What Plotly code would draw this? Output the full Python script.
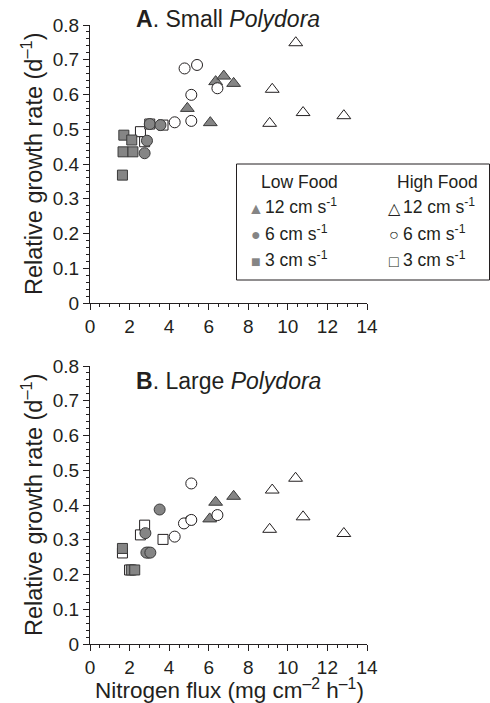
import plotly.graph_objects as go

# ---------------- data ----------------
# Panel A: Small Polydora
a_low12_x = [4.92, 6.08, 6.35, 6.76, 7.26]
a_low12_y = [0.560, 0.519, 0.637, 0.653, 0.632]
a_low6_x = [2.76, 2.88, 3.02, 3.56]
a_low6_y = [0.431, 0.467, 0.515, 0.512]
a_low3_x = [1.64, 1.67, 1.71, 2.11, 2.17]
a_low3_y = [0.368, 0.435, 0.483, 0.469, 0.435]
a_high12_x = [9.08, 9.21, 10.40, 10.77, 12.83]
a_high12_y = [0.517, 0.615, 0.749, 0.548, 0.539]
a_high6_x = [4.28, 4.78, 5.12, 5.12, 5.41, 6.44]
a_high6_y = [0.520, 0.675, 0.524, 0.599, 0.685, 0.618]
a_high3_x = [2.55, 2.76, 3.02, 3.69]
a_high3_y = [0.493, 0.464, 0.515, 0.512]

# Panel B: Large Polydora
b_low12_x = [4.92, 6.05, 6.35, 7.26]
b_low12_y = [0.352, 0.360, 0.408, 0.425]
b_low6_x = [2.80, 2.85, 3.05, 3.52]
b_low6_y = [0.319, 0.263, 0.263, 0.387]
b_low3_x = [1.64, 2.09, 2.26]
b_low3_y = [0.275, 0.213, 0.213]
b_high12_x = [9.08, 9.21, 10.39, 10.77, 12.83]
b_high12_y = [0.330, 0.443, 0.477, 0.366, 0.318]
b_high6_x = [2.95, 4.28, 4.75, 5.12, 5.12, 6.44]
b_high6_y = [0.263, 0.309, 0.347, 0.357, 0.462, 0.371]
b_high3_x = [1.64, 2.00, 2.55, 2.76, 3.69]
b_high3_y = [0.262, 0.213, 0.314, 0.342, 0.301]

x_ticks = [0, 2, 4, 6, 8, 10, 12, 14]
y_ticks = [0, 0.1, 0.2, 0.3, 0.4, 0.5, 0.6, 0.7, 0.8]
y_ticklabels = ["0", "0.1", "0.2", "0.3", "0.4", "0.5", "0.6", "0.7", "0.8"]

# ---------------- style ----------------
FONT = "Liberation Sans, Arial, Helvetica, sans-serif"
INK = "#231f20"
GREY = "#858585"
W, H = 490, 703
ML, MR, MT, MB = 90, 123, 25, 59
PW, PH = W - ML - MR, H - MT - MB


def px_x(p):
    return (p - ML) / PW


def px_y(p):
    return (H - MB - p) / PH


def marker(symbol, filled, size):
    return dict(
        symbol=symbol,
        size=size,
        color=GREY if filled else "white",
        line=dict(color="#3a3a3a" if filled else INK, width=1),
    )


series = [
    ("high3", "square", False, 10),
    ("low3", "square", True, 10),
    ("high12", "triangle-up", False, 12),
    ("low12", "triangle-up", True, 12),
    ("high6", "circle", False, 11),
    ("low6", "circle", True, 11),
]

panels = {
    "a": dict(
        low12=(a_low12_x, a_low12_y), low6=(a_low6_x, a_low6_y), low3=(a_low3_x, a_low3_y),
        high12=(a_high12_x, a_high12_y), high6=(a_high6_x, a_high6_y), high3=(a_high3_x, a_high3_y),
    ),
    "b": dict(
        low12=(b_low12_x, b_low12_y), low6=(b_low6_x, b_low6_y), low3=(b_low3_x, b_low3_y),
        high12=(b_high12_x, b_high12_y), high6=(b_high6_x, b_high6_y), high3=(b_high3_x, b_high3_y),
    ),
}

fig = go.Figure()
for pkey, axes in (("a", ("x", "y")), ("b", ("x2", "y2"))):
    for name, sym, filled, size in series:
        xs, ys = panels[pkey][name]
        fig.add_trace(go.Scatter(
            x=xs, y=ys, mode="markers", xaxis=axes[0], yaxis=axes[1],
            marker=marker(sym, filled, size), showlegend=False, cliponaxis=False,
            hoverinfo="x+y",
        ))

gap = 63
dom_h = (PH - gap) / 2 / PH

axis_common = dict(
    showgrid=False, zeroline=False, showline=True, linecolor=INK, linewidth=1,
    ticks="outside", ticklen=6, tickwidth=1, tickcolor=INK, automargin=False,
    tickfont=dict(family=FONT, size=19, color=INK),
)
xa = dict(axis_common, range=[0, 14], tickvals=x_ticks,
          minor=dict(dtick=0.5, ticks="outside", ticklen=3, tickcolor=INK, tick0=0))
ya = dict(axis_common, range=[0, 0.8], tickvals=y_ticks, ticktext=y_ticklabels,
          minor=dict(dtick=0.02, ticks="outside", ticklen=3, tickcolor=INK, tick0=0))

fig.update_layout(
    width=W, height=H,
    margin=dict(l=ML, r=MR, t=MT, b=MB, autoexpand=False),
    paper_bgcolor="white", plot_bgcolor="white",
    font=dict(family=FONT, color=INK),
    xaxis=dict(xa, anchor="y", domain=[0, 1]),
    yaxis=dict(ya, anchor="x", domain=[1 - dom_h, 1]),
    xaxis2=dict(xa, anchor="y2", domain=[0, 1]),
    yaxis2=dict(ya, anchor="x2", domain=[0, dom_h]),
)

ann = []
# panel titles
ann.append(dict(text="<b>A</b>. Small <i>Polydora</i>", x=px_x(228), y=px_y(19),
                font=dict(size=23)))
ann.append(dict(text="<b>B</b>. Large <i>Polydora</i>", x=px_x(228), y=px_y(381),
                font=dict(size=23)))
# axis titles
for yc in (164, 505):
    ann.append(dict(text="Relative growth rate (d<sup>–1</sup>)", x=px_x(32), y=px_y(yc),
                    textangle=-90, font=dict(size=23.5)))
ann.append(dict(text="Nitrogen flux (mg cm<sup>–2</sup> h<sup>–1</sup>)", x=px_x(229), y=px_y(689),
                font=dict(size=22.5)))

# legend (panel A)
ann.append(dict(text="Low Food", x=px_x(299), y=px_y(182), font=dict(size=17.5)))
ann.append(dict(text="High Food", x=px_x(437), y=px_y(182), font=dict(size=17.5)))
rows = [(208, "▲", "△", "12 cm s<sup>-1</sup>"),
        (235, "●", "○", "6 cm s<sup>-1</sup>"),
        (261, "■", "□", "3 cm s<sup>-1</sup>")]
for yc, fs, os_, lab in rows:
    ann.append(dict(text=fs, x=px_x(256), y=px_y(yc), font=dict(size=16, color=GREY)))
    ann.append(dict(text=os_, x=px_x(394), y=px_y(yc), font=dict(size=16, color=INK)))
    ann.append(dict(text=lab, x=px_x(263), y=px_y(yc - 2), xanchor="left", font=dict(size=17.5)))
    ann.append(dict(text=lab, x=px_x(401), y=px_y(yc - 2), xanchor="left", font=dict(size=17.5)))

for a in ann:
    a.setdefault("xanchor", "center")
    a.update(xref="paper", yref="paper", yanchor="middle", showarrow=False)
    a["font"] = dict(dict(family=FONT, color=INK), **a["font"])
fig.update_layout(annotations=ann)

fig.add_shape(type="rect", xref="paper", yref="paper",
              x0=px_x(236.5), x1=px_x(489.5), y0=px_y(280), y1=px_y(164),
              line=dict(color=INK, width=1), fillcolor="white", layer="above")

fig.write_html("out.html", post_script="document.body.style.margin='0';",
               config={"displayModeBar": False})
